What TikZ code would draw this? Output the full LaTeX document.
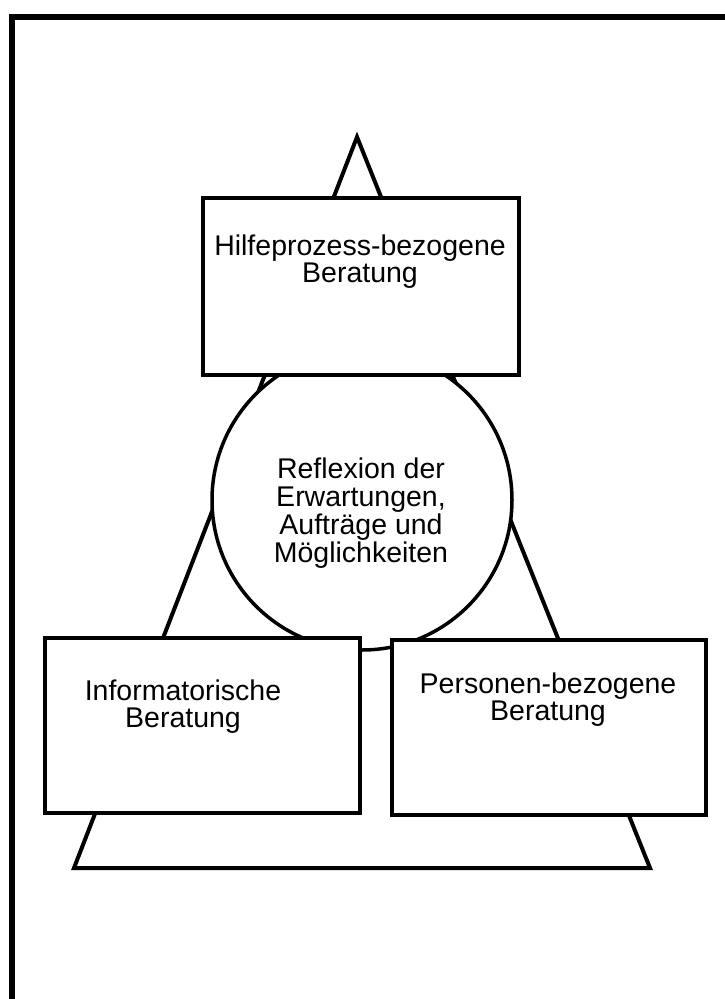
\documentclass[tikz,border=0pt]{standalone}
\usepackage{fontspec}
\setmainfont{Liberation Sans}
\begin{document}
\begin{tikzpicture}[x=1pt,y=-1pt,
  outline/.style={draw=black,line width=4pt,line join=miter},
  boxnode/.style={draw=black,line width=4.5pt,fill=white},
  label/.style={align=center,anchor=base,inner sep=0pt,font=\fontsize{28.5}{26.5}\selectfont}]
\useasboundingbox (0,0) rectangle (725,999);
% frame
\draw[line width=5.5pt] (12,1010) -- (12,17) -- (740,17);
% triangle
\coordinate (apex) at (357,137);
\coordinate (bl) at (74,868);
\coordinate (br) at (650,868);
\draw[outline] (apex) -- (bl) -- (br) -- cycle;
% circle
\node[outline,line width=3.5pt,fill=white,circle,minimum size=300pt,inner sep=0pt] (ref) at (362,500) {};
% boxes
\path[boxnode] (203,198) rectangle (519,375);
\path[boxnode] (45,638) rectangle (360,813);
\path[boxnode] (392,640) rectangle (706,815);
% texts (base = last line)
\node[label] (thilfe) at (360,282) {Hilfeprozess-bezogene\\Beratung};
\node[label,font=\fontsize{28.5}{28}\selectfont] (tref) at (361,562) {Reflexion der\\Erwartungen,\\Aufträge und\\Möglichkeiten};
\node[label] (tinfo) at (183,727) {Informatorische\\Beratung};
\node[label] (tpers) at (548,720) {Personen-bezogene\\Beratung};
\end{tikzpicture}
\end{document}
